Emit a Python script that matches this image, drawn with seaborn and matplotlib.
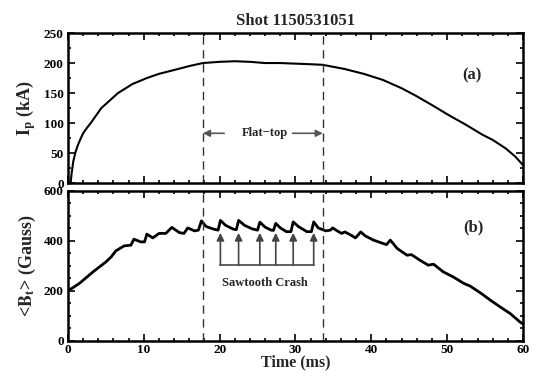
import numpy as np
import pandas as pd
import matplotlib
matplotlib.use("Agg")
import matplotlib.pyplot as plt
import seaborn as sns
from matplotlib.ticker import MultipleLocator

# ---- data ----
t_ip = [0.35, 0.5, 0.7, 1.0, 1.3, 1.6, 2.0, 2.5, 3.0, 4.4, 6.6, 8.5, 10.4, 12.0,
        14.5, 16.0, 17.8, 20.0, 22.0, 24.0, 26.0, 28.0, 30.0, 32.0, 33.6, 36.5,
        39.0, 41.5, 44.0, 45.8, 48.0, 50.1, 52.5, 54.6, 56.0, 57.7, 59.0, 60.0]
ip = [0, 18, 36, 52, 63, 72, 83, 92, 100, 125, 150, 165, 175, 182,
      190, 195, 200, 202, 203, 202, 200, 200, 199, 198, 197, 190,
      182, 172, 158, 146, 130, 114, 97, 81, 72, 58, 44, 30]

t_bt = [0.0, 0.5, 1.5, 3.3, 5.0, 5.7, 6.3, 7.4, 8.3, 8.7, 9.6, 10.1, 10.4, 11.2,
        12.0, 12.9, 13.7, 14.7, 15.3, 15.8, 16.7, 17.2, 17.6, 18.2, 19.2, 19.8,
        20.1, 20.8, 21.8, 22.2, 22.5, 23.3, 24.3, 25.0, 25.3, 26.0, 26.8, 27.1,
        27.4, 28.0, 28.8, 29.4, 29.7, 30.4, 31.5, 32.1, 32.4, 33.0, 34.0, 34.6,
        34.9, 35.5, 36.1, 36.5, 37.2, 37.9, 38.3, 38.6, 39.2, 40.3, 42.0, 42.5,
        43.0, 43.4, 44.7, 45.3, 46.4, 47.5, 48.2, 49.5, 50.8, 52.2, 53.0, 54.4,
        55.7, 57.0, 58.3, 59.6, 60.0]
bt = [203, 210, 230, 276, 316, 336, 360, 380, 383, 407, 396, 396, 427, 412,
      430, 430, 454, 433, 430, 452, 440, 443, 480, 458, 447, 443,
      482, 462, 447, 445, 482, 462, 448, 443, 475, 455, 443, 442,
      470, 452, 437, 437, 476, 457, 437, 437, 476, 452, 440, 443,
      452, 440, 430, 436, 425, 412, 425, 436, 420, 403, 385, 403,
      385, 370, 343, 345, 323, 303, 307, 276, 256, 230, 220, 192,
      163, 136, 110, 76, 68]

crash_times = [20.1, 22.5, 25.3, 27.4, 29.7, 32.4]
flat_top = [17.8, 33.6]

df_ip = pd.DataFrame({"t": t_ip, "ip": ip})
df_bt = pd.DataFrame({"t": t_bt, "bt": bt})

sns.set_style("ticks")
plt.rcParams["font.family"] = ["Liberation Serif", "DejaVu Serif"]
plt.rcParams["font.weight"] = "bold"
plt.rcParams["axes.labelweight"] = "bold"
plt.rcParams["mathtext.fontset"] = "stix"

fig = plt.figure(figsize=(5.35, 3.73), dpi=100)
ax1 = fig.add_axes([0.127, 0.509, 0.8506, 0.4025])
ax2 = fig.add_axes([0.127, 0.0858, 0.8506, 0.4025])

sns.lineplot(data=df_ip, x="t", y="ip", ax=ax1, color="black", linewidth=1.5)
sns.lineplot(data=df_bt, x="t", y="bt", ax=ax2, color="black", linewidth=2.0)

for ax in (ax1, ax2):
    ax.set_xlim(0, 60)
    ax.xaxis.set_major_locator(MultipleLocator(10))
    ax.xaxis.set_minor_locator(MultipleLocator(2))
    ax.tick_params(which="both", direction="in", top=True, right=True,
                   labelsize=9.5, width=1.2, colors="black", pad=3)
    ax.tick_params(which="major", length=5)
    ax.tick_params(which="minor", length=2.5)
    for s in ax.spines.values():
        s.set_linewidth(1.8)
        s.set_color("black")
    for xv in flat_top:
        ax.axvline(xv, color="#333333", lw=1.0, ls=(0, (6, 4)))
    for lab in ax.get_xticklabels() + ax.get_yticklabels():
        lab.set_fontweight("bold")

ax1.set_ylim(0, 250)
ax1.yaxis.set_major_locator(MultipleLocator(50))
ax1.yaxis.set_minor_locator(MultipleLocator(25))
ax1.tick_params(labelbottom=False)
ax1.set_xlabel("")
ax1.set_ylabel(r"$\mathbf{I_p}$ (kA)", fontsize=13, labelpad=4)

ax2.set_ylim(0, 600)
ax2.yaxis.set_major_locator(MultipleLocator(200))
ax2.yaxis.set_minor_locator(MultipleLocator(50))
ax2.tick_params(axis="x", pad=2)
ax2.set_xlabel("Time (ms)", fontsize=11.5, labelpad=-1)
ax2.set_ylabel(r"<$\mathbf{B_t}$> (Gauss)", fontsize=13, labelpad=4)

ax1.set_title("Shot 1150531051", fontsize=12, fontweight="bold", pad=6)

ax1.text(53.3, 180, "(a)", fontsize=12, fontweight="bold", ha="center", va="center")
ax2.text(53.4, 456, "(b)", fontsize=12, fontweight="bold", ha="center", va="center")

# Flat-top annotation
ax1.text(26.0, 83, "Flat\u2212top", fontsize=9, fontweight="bold", ha="center", va="center")
ax1.annotate("", xy=(flat_top[0], 83), xytext=(20.6, 83),
             arrowprops=dict(arrowstyle="-|>", color="#555555", lw=1.2,
                             mutation_scale=10, shrinkA=0, shrinkB=0))
ax1.annotate("", xy=(flat_top[1], 83), xytext=(29.6, 83),
             arrowprops=dict(arrowstyle="-|>", color="#555555", lw=1.2,
                             mutation_scale=10, shrinkA=0, shrinkB=0))

# Sawtooth crash arrows
base = 303
ax2.plot([crash_times[0], crash_times[-1]], [base, base], color="#444444", lw=1.2)
for ct in crash_times:
    ax2.annotate("", xy=(ct, 432), xytext=(ct, base),
                 arrowprops=dict(arrowstyle="-|>", color="#444444", lw=1.2,
                                 mutation_scale=11, shrinkA=0, shrinkB=0))
ax2.text(26.0, 232, "Sawtooth Crash", fontsize=9, fontweight="bold", ha="center", va="center")

fig.savefig("out.png", dpi=100)
